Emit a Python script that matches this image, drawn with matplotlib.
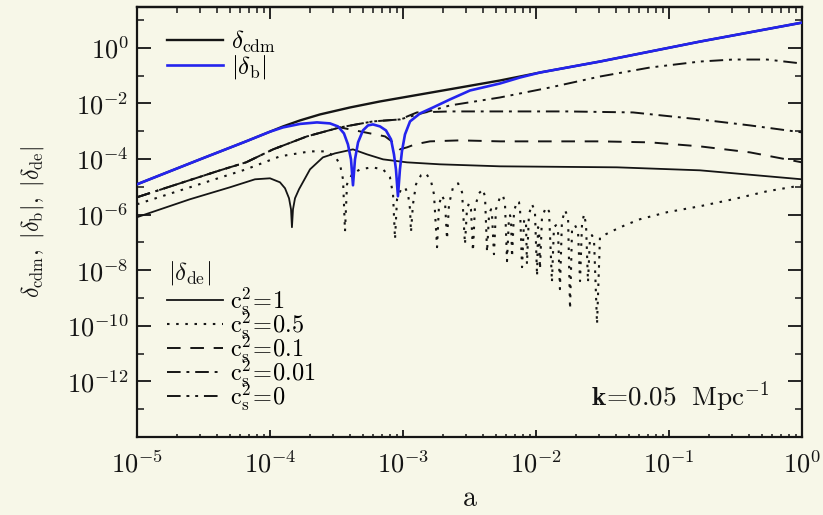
import numpy as np
import matplotlib
matplotlib.use("Agg")
import matplotlib.pyplot as plt
from matplotlib.ticker import FixedLocator, LogLocator, FuncFormatter, NullFormatter

plt.rcParams["mathtext.fontset"] = "cm"
plt.rcParams["font.family"] = ["DejaVu Serif"]

# ---------------------------------------------------------------
# Curves as log10(a) / log10(|delta|) pairs, k = 0.05 Mpc^-1
# ---------------------------------------------------------------
log_a_cdm = [-5.0, -4.526, -4.180, -4.0, -3.902, -3.774, -3.624, -3.398, -3.173,
             -2.872, -2.571, -2.271, -1.970, -1.519, -0.767, 0.0]
log_d_cdm = [-4.909, -4.011, -3.364, -3.016, -2.826, -2.610, -2.395, -2.144, -1.928,
             -1.677, -1.426, -1.174, -0.887, -0.492, 0.226, 0.908]

log_a_b = [-5.0, -4.526, -4.180, -4.0, -3.902, -3.774, -3.647, -3.549, -3.489, -3.444,
           -3.414, -3.391, -3.376, -3.361, -3.338, -3.301, -3.263, -3.226, -3.173, -3.128,
           -3.090, -3.068, -3.053, -3.038, -3.023, -3.008, -2.985, -2.947, -2.872, -2.774,
           -2.647, -2.496, -2.271, -2.120, -1.970, -1.519, -0.767, 0.0]
log_d_b = [-4.909, -4.011, -3.364, -3.016, -2.862, -2.736, -2.682, -2.718, -2.826, -3.077,
           -3.472, -4.011, -4.944, -4.011, -3.400, -2.970, -2.790, -2.754, -2.826, -2.970,
           -3.293, -3.831, -4.370, -5.339, -4.370, -3.724, -3.113, -2.646, -2.359, -2.144,
           -1.856, -1.533, -1.282, -1.066, -0.887, -0.492, 0.226, 0.908]

# dark energy, c_s^2 = 1
log_a_de1 = [-5.0, -4.602, -4.301, -4.113, -4.0, -3.925, -3.887, -3.857, -3.842, -3.835,
             -3.827, -3.812, -3.782, -3.699, -3.602, -3.511, -3.376, -3.271, -3.150, -2.970,
             -2.722, -2.271, -1.391, -0.767, 0.0]
log_d_de1 = [-6.093, -5.447, -5.016, -4.729, -4.693, -4.837, -5.052, -5.411, -5.806, -6.452,
             -5.806, -5.411, -5.088, -4.370, -3.939, -3.795, -3.652, -3.831, -4.011, -4.119,
             -4.190, -4.262, -4.298, -4.406, -4.729]

# dark energy, c_s^2 = 0.5
log_a_de05 = [-5.000, -4.602, -4.180, -3.925, -3.699, -3.586, -3.511, -3.474, -3.451, -3.436,
              -3.421, -3.383, -3.323, -3.233, -3.150, -3.098, -3.075, -3.060, -3.045, -3.015,
              -2.985, -2.962, -2.947, -2.940, -2.925, -2.902, -2.865, -2.827, -2.789, -2.767,
              -2.744, -2.729, -2.707, -2.684, -2.669, -2.654, -2.624, -2.586, -2.556, -2.534,
              -2.519, -2.504, -2.489, -2.474, -2.459, -2.429, -2.398, -2.383, -2.368, -2.353,
              -2.338, -2.331, -2.316, -2.301, -2.271, -2.248, -2.233, -2.218, -2.203, -2.195,
              -2.188, -2.180, -2.165, -2.143, -2.128, -2.120, -2.105, -2.090, -2.083, -2.075,
              -2.068, -2.053, -2.030, -2.008, -1.992, -1.985, -1.977, -1.970, -1.955, -1.925,
              -1.902, -1.880, -1.865, -1.850, -1.835, -1.820, -1.805, -1.782, -1.759, -1.744,
              -1.729, -1.707, -1.684, -1.669, -1.654, -1.639, -1.624, -1.609, -1.594, -1.579,
              -1.564, -1.541, -1.519, -1.429, -1.331, -1.218, -1.015, -0.767, -0.519, -0.263,
              0.000]
log_d_de05 = [-5.627, -5.016, -4.370, -3.903, -3.724, -3.724, -3.903, -4.190, -4.729, -6.596,
              -4.908, -4.549, -4.370, -4.298, -4.370, -4.657, -5.268, -6.883, -5.447, -5.088,
              -5.016, -5.268, -5.806, -6.632, -5.627, -4.908, -4.585, -4.513, -4.801, -5.268,
              -7.171, -5.627, -5.303, -5.555, -6.883, -5.627, -5.016, -4.873, -5.196, -7.063,
              -5.806, -5.591, -5.806, -7.314, -5.734, -5.232, -5.088, -5.375, -7.350, -5.986,
              -5.806, -5.986, -7.422, -5.806, -5.375, -5.303, -5.627, -7.673, -6.093, -6.022,
              -6.165, -7.530, -5.878, -5.519, -5.555, -5.806, -7.889, -6.237, -6.165, -6.345,
              -7.781, -5.986, -5.627, -5.878, -8.212, -6.452, -6.488, -7.960, -6.093, -5.734,
              -5.878, -8.427, -6.452, -6.381, -6.524, -8.679, -6.237, -5.842, -6.093, -9.397,
              -6.524, -6.381, -6.596, -8.391, -6.345, -5.986, -6.345, -8.427, -6.812, -6.740,
              -6.883, -9.935, -6.812, -6.596, -6.381, -6.165, -5.914, -5.698, -5.447, -5.160,
              -4.944]

# dark energy, c_s^2 = 0.1
log_a_de01 = [-5.0, -4.677, -4.376, -4.180, -3.977, -3.722, -3.474, -3.323, -3.135, -3.075,
              -3.023, -2.970, -2.910, -2.797, -2.571, -2.271, -1.519, -1.143, -0.767, -0.391, 0.0]
log_d_de01 = [-5.375, -4.873, -4.406, -4.119, -3.652, -3.185, -2.862, -3.005, -3.185, -3.400,
              -3.652, -3.580, -3.472, -3.364, -3.328, -3.364, -3.364, -3.400, -3.544, -3.760, -4.119]

# dark energy, c_s^2 = 0.01
log_a_de001 = [-5.0, -4.677, -4.376, -4.180, -3.977, -3.722, -3.474, -3.226, -3.023, -2.895,
               -2.647, -1.767, -1.271, -0.767, -0.391, 0.0]
log_d_de001 = [-5.375, -4.873, -4.406, -4.119, -3.652, -3.185, -2.862, -2.646, -2.575, -2.323,
               -2.287, -2.287, -2.323, -2.575, -2.790, -3.041]

# dark energy, c_s^2 = 0
log_a_de0 = [-5.0, -4.677, -4.376, -4.180, -3.977, -3.722, -3.474, -3.226, -3.023, -2.647,
             -2.271, -1.895, -1.519, -1.143, -0.767, -0.519, -0.263, 0.0]
log_d_de0 = [-5.375, -4.873, -4.406, -4.119, -3.652, -3.185, -2.862, -2.646, -2.575, -2.072,
             -1.785, -1.426, -1.031, -0.707, -0.492, -0.420, -0.420, -0.564]

de_labels = [r"$\mathrm{c_s^2\!=\!1}$", r"$\mathrm{c_s^2\!=\!0.5}$", r"$\mathrm{c_s^2\!=\!0.1}$",
             r"$\mathrm{c_s^2\!=\!0.01}$", r"$\mathrm{c_s^2\!=\!0}$"]

BG = "#f7f7e8"
INK = "#151515"
BLUE = "#2424ee"


def lin(v):
    return 10.0 ** np.asarray(v, dtype=float)


fig = plt.figure(figsize=(8.23, 5.15), dpi=100, facecolor=BG)
ax = fig.add_axes([0.16646, 0.15146, 0.80802, 0.83495], facecolor=BG)
ax.set_xscale("log")
ax.set_yscale("log")

styles = [
    dict(ls="-", lw=1.3),
    dict(ls=(0, (1.2, 3.2)), lw=1.5),
    dict(ls=(0, (7, 5)), lw=1.4),
    dict(ls=(0, (7, 3, 1.5, 3)), lw=1.4),
    dict(ls=(0, (7, 3, 1.5, 3, 1.5, 3)), lw=1.4),
]
de_series = [(log_a_de1, log_d_de1), (log_a_de05, log_d_de05), (log_a_de01, log_d_de01),
             (log_a_de001, log_d_de001), (log_a_de0, log_d_de0)]
de_handles = []
for (la, ld), st, lab in zip(de_series, styles, de_labels):
    h, = ax.plot(lin(la), lin(ld), color=INK, label=lab, zorder=2, **st)
    de_handles.append(h)

h_cdm, = ax.plot(lin(log_a_cdm), lin(log_d_cdm), color=INK, lw=1.7, zorder=3)
h_b, = ax.plot(lin(log_a_b), lin(log_d_b), color=BLUE, lw=1.9, zorder=4)

ax.set_xlim(1e-5, 1.0)
ax.set_ylim(1e-14, 10 ** 1.47)

# ticks
fmt = FuncFormatter(lambda v, pos: r"$10^{%d}$" % int(round(np.log10(v))))
decades = [1e-5, 1e-4, 1e-3, 1e-2, 1e-1, 1e0]
ax.xaxis.set_major_locator(FixedLocator(decades))
ax.xaxis.set_minor_locator(LogLocator(base=10, subs=np.arange(2, 10), numticks=20))
ax.xaxis.set_major_formatter(fmt)
ax.xaxis.set_minor_formatter(NullFormatter())
ax.yaxis.set_major_locator(FixedLocator([10.0 ** e for e in range(-12, 1, 2)]))
ax.yaxis.set_minor_locator(FixedLocator([10.0 ** e for e in range(-13, 2, 2)]))
ax.yaxis.set_major_formatter(fmt)
ax.yaxis.set_minor_formatter(NullFormatter())

ax.tick_params(axis="both", which="both", direction="in", colors=INK, labelsize=19)
ax.tick_params(axis="x", which="major", length=5, width=1.3, pad=10, top=False)
ax.tick_params(axis="x", which="minor", length=2.5, width=1.1, top=False)
ax.tick_params(axis="y", which="major", length=10, width=1.3, pad=6, right=True)
ax.tick_params(axis="y", which="minor", length=5, width=1.1, right=True)

top = ax.secondary_xaxis("top")
top.xaxis.set_major_locator(FixedLocator(decades))
top.xaxis.set_minor_locator(LogLocator(base=10, subs=np.arange(2, 10), numticks=20))
top.xaxis.set_major_formatter(NullFormatter())
top.xaxis.set_minor_formatter(NullFormatter())
top.tick_params(axis="x", which="major", direction="in", length=8.5, width=1.3, colors=INK)
top.tick_params(axis="x", which="minor", direction="in", length=4.5, width=1.1, colors=INK)
top.spines["top"].set_linewidth(1.6)
top.spines["top"].set_color(INK)

for s in ax.spines.values():
    s.set_linewidth(1.6)
    s.set_color(INK)

ax.set_xlabel(r"$\mathrm{a}$", fontsize=20, color=INK, labelpad=5)
ax.set_ylabel(r"$\delta_{\rm cdm},\ |\delta_{\rm b}|,\ |\delta_{\rm de}|$", fontsize=17,
              color=INK, labelpad=15)

ax.text(0.952, 0.072, r"$\mathbf{k}\!=\!0.05\ \ \mathrm{Mpc}^{-1}$", transform=ax.transAxes,
        ha="right", va="baseline", fontsize=19.5, color=INK)

leg1 = ax.legend([h_cdm, h_b], [r"$\delta_{\rm cdm}$", r"$|\delta_{\rm b}|$"],
                 loc="upper left", bbox_to_anchor=(0.045, 0.950), frameon=False,
                 fontsize=18, handlelength=2.25, handletextpad=0.3, labelspacing=-0.07,
                 borderpad=0, borderaxespad=0)
ax.add_artist(leg1)

# dark-energy legend: heading plus one row per sound speed
ax.text(0.0466, 0.381, r"$|\delta_{\rm de}|$", transform=ax.transAxes, ha="left",
        va="center", fontsize=18, color=INK)
leg2 = ax.legend(de_handles, de_labels, loc="upper left", bbox_to_anchor=(0.045, 0.3526),
                 frameon=False, fontsize=17.5, handlelength=2.3, handletextpad=0.3,
                 labelspacing=-0.33, borderpad=0, borderaxespad=0)

fig.savefig("out.png", dpi=100, facecolor=BG)
